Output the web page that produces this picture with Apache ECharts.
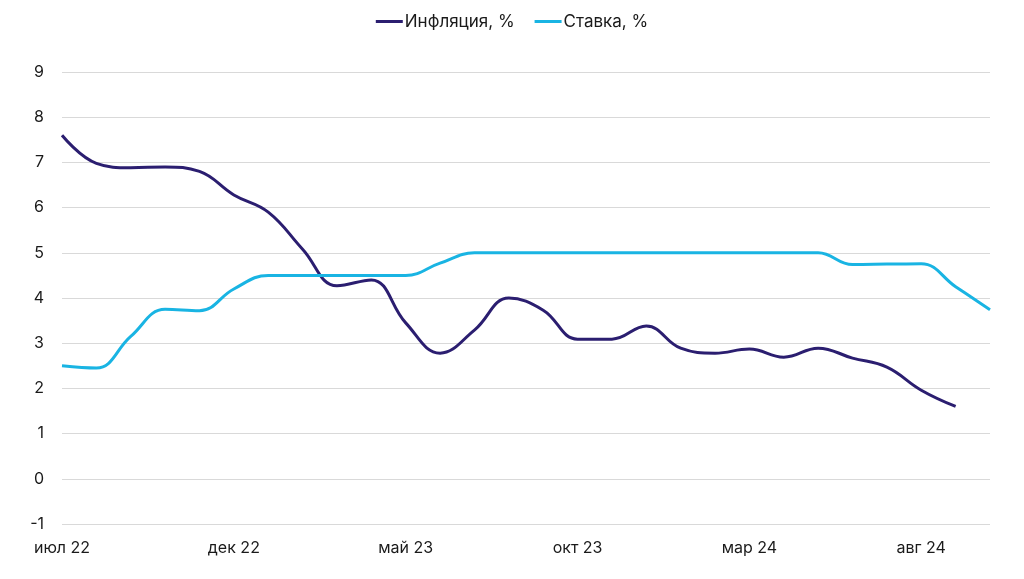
<!DOCTYPE html>
<html>
<head>
<meta charset="utf-8">
<script src="https://cdn.jsdelivr.net/npm/echarts@6/dist/echarts.min.js"></script>
<style>html,body{margin:0;padding:0;background:#fff}#c{width:1024px;height:579px}</style>
</head>
<body>
<div id="c"></div>
<script>
const categories = ['июл 22','авг 22','сен 22','окт 22','ноя 22','дек 22','янв 23','фев 23','мар 23','апр 23','май 23','июн 23','июл 23','авг 23','сен 23','окт 23','ноя 23','дек 23','янв 24','фев 24','мар 24','апр 24','май 24','июн 24','июл 24','авг 24','сен 24','окт 24'];
const inflation = [7.6,6.98,6.88,6.9,6.8,6.28,5.9,5.08,4.27,4.4,3.45,2.78,3.29,4.0,3.73,3.09,3.09,3.38,2.89,2.78,2.87,2.69,2.89,2.67,2.47,1.96,1.6,null];
const rate = [2.5,2.45,3.15,3.75,3.72,4.2,4.5,4.5,4.5,4.5,4.5,4.77,5.0,5.0,5.0,5.0,5.0,5.0,5.0,5.0,5.0,5.0,5.0,4.74,4.75,4.76,4.25,3.74];
const yTicks = [-1,0,1,2,3,4,5,6,7,8,9];

const chart = echarts.init(document.getElementById('c'));
const font = 'Inter, "Liberation Sans", Arial, sans-serif';
chart.setOption({
  animation: false,
  textStyle: {fontFamily: font},
  legend: {
    top: 8, left: 'center',
    icon: 'rect', itemWidth: 27, itemHeight: 3, itemGap: 20,
    textStyle: {fontSize: 17, color: '#1a1a1a', fontFamily: font, padding: [0,0,0,-3]},
    data: ['Инфляция, %', 'Ставка, %']
  },
  grid: {left: 62, right: 34, top: 72, bottom: 55, containLabel: false},
  xAxis: {
    type: 'category', data: categories, boundaryGap: false,
    axisLine: {show: false}, axisTick: {show: false},
    axisLabel: {interval: 4, fontSize: 16, color: '#1a1a1a', margin: 16, fontFamily: font},
    splitLine: {show: false}
  },
  yAxis: {
    type: 'value', min: yTicks[0], max: yTicks[yTicks.length-1], interval: 1,
    axisLine: {show: false}, axisTick: {show: false},
    axisLabel: {fontSize: 16, color: '#1a1a1a', margin: 18, fontFamily: font},
    splitLine: {lineStyle: {color: '#d9d9d9', width: 1}}
  },
  series: [
    {name: 'Инфляция, %', type: 'line', data: inflation, smooth: 0.42, showSymbol: false,
     lineStyle: {width: 3, color: '#2b1e70'}, itemStyle: {color: '#2b1e70'}},
    {name: 'Ставка, %', type: 'line', data: rate, smooth: 0.42, showSymbol: false,
     lineStyle: {width: 3, color: '#19b4e3'}, itemStyle: {color: '#19b4e3'}}
  ]
});
</script>
</body>
</html>
